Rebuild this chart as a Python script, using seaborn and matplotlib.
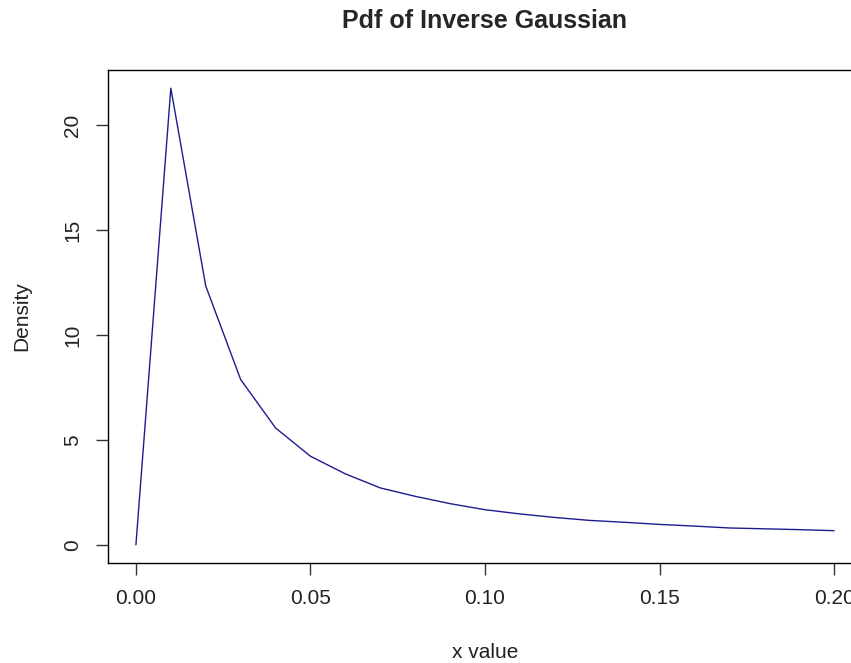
import matplotlib
matplotlib.use("Agg")
import matplotlib.pyplot as plt
import seaborn as sns
import pandas as pd

# Inverse Gaussian density evaluated on a grid of x values
x_values = [0.00, 0.01, 0.02, 0.03, 0.04, 0.05, 0.06, 0.07, 0.08, 0.09, 0.10,
            0.11, 0.12, 0.13, 0.14, 0.15, 0.16, 0.17, 0.18, 0.19, 0.20]
density = [0.0, 21.77, 12.34, 7.88, 5.57, 4.22, 3.38, 2.71, 2.31, 1.96, 1.67,
           1.47, 1.30, 1.16, 1.07, 0.97, 0.89, 0.80, 0.76, 0.72, 0.67]
x_ticks = [0.00, 0.05, 0.10, 0.15, 0.20]
x_tick_labels = ["0.00", "0.05", "0.10", "0.15", "0.20"]
y_ticks = [0, 5, 10, 15, 20]
y_tick_labels = ["0", "5", "10", "15", "20"]

df = pd.DataFrame({"x": x_values, "density": density})

sns.set_theme(style="white")
plt.rcParams["font.family"] = ["Liberation Sans", "DejaVu Sans"]

W, H = 851, 663
fig = plt.figure(figsize=(W / 100, H / 100), dpi=100)
left, right, top, bottom = 108, 862, 70, 563
ax = fig.add_axes([left / W, 1 - bottom / H, (right - left) / W, (bottom - top) / H])

sns.lineplot(data=df, x="x", y="density", ax=ax, color="#1c1c8f", linewidth=1.0)

# R-style 4% padding around the data range
xmin, xmax = min(x_values), max(x_values)
ymin, ymax = 0.0, max(density)
dx, dy = 0.04 * (xmax - xmin), 0.04 * (ymax - ymin)
ax.set_xlim(xmin - dx, xmax + dx)
ax.set_ylim(ymin - dy, ymax + dy)

ax.set_xticks(x_ticks)
ax.set_xticklabels(x_tick_labels)
ax.set_yticks(y_ticks)
ax.set_yticklabels(y_tick_labels, rotation=90, va="center")

for s in ax.spines.values():
    s.set_color("black")
    s.set_linewidth(1.0)

ax.tick_params(axis="both", which="major", bottom=True, left=True,
               direction="out", length=8.6, width=1.0,
               color="#333333", labelsize=15, labelcolor="#222222")
ax.tick_params(axis="x", pad=10)
ax.tick_params(axis="y", pad=10)

ax.set_xlabel("x value", fontsize=15, color="#222222")
ax.set_ylabel("Density", fontsize=15, color="#222222")
ax.xaxis.set_label_coords(0.5, (bottom - 643) / (bottom - top))
ax.yaxis.set_label_coords((31 - left) / (right - left), 0.5)
ax.set_title("Pdf of Inverse Gaussian", fontsize=18, fontweight="bold",
             pad=30)

fig.savefig("out.png", dpi=100)
